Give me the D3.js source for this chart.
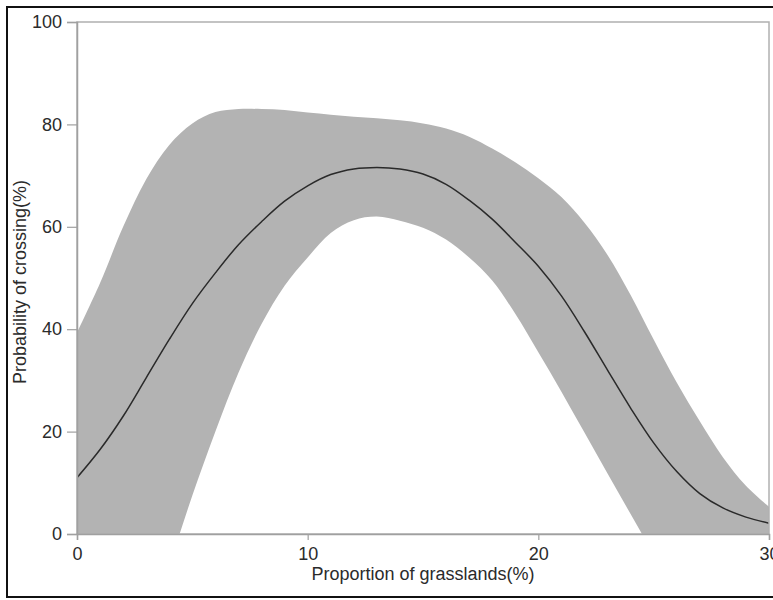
<!DOCTYPE html>
<html>
<head>
<meta charset="utf-8">
<script src="https://cdn.jsdelivr.net/npm/d3@7"></script>
<style>
  body { margin: 0; background: #fff; }
  svg { display: block; font-family: "Liberation Sans", Arial, sans-serif; }
</style>
</head>
<body>
<div id="chart"></div>
<script>
// proportion of grasslands (%)
const xs = [0, 1, 2, 3, 4, 5, 6, 7, 8, 9, 10, 11, 12, 13, 14, 15, 16, 17, 18, 19, 20, 21, 22, 23, 24, 25, 26, 27, 28, 29, 30];
// fitted probability of crossing (%)
const mean = [11.0, 16.5, 23.0, 30.5, 38.0, 45.0, 51.0, 56.5, 61.0, 65.0, 68.0, 70.2, 71.3, 71.6, 71.3, 70.3, 68.3, 65.2, 61.5, 57.0, 52.3, 46.5, 39.5, 32.0, 24.6, 17.8, 12.2, 7.9, 5.1, 3.3, 2.1];
// confidence band (lower part runs below the 0 line and is clipped)
const upper = [39.3, 49.0, 60.0, 69.3, 76.0, 80.2, 82.4, 83.0, 83.0, 82.8, 82.3, 81.9, 81.5, 81.2, 80.8, 80.2, 79.2, 77.6, 75.3, 72.6, 69.5, 65.8, 60.8, 54.5, 46.7, 38.0, 29.6, 22.0, 15.0, 9.4, 5.3];
const lower = [-55, -42, -30, -18, -6, 7.5, 20.0, 31.5, 41.0, 48.5, 54.0, 58.8, 61.3, 62.0, 61.2, 59.8, 57.5, 54.0, 49.5, 43.0, 35.5, 27.8, 19.8, 11.8, 3.9, -4, -12, -18, -23, -27, -30];

const xTicks = [0, 10, 20, 30];
const yTicks = [0, 20, 40, 60, 80, 100];

const width = 773, height = 600;
const pLeft = 77, pRight = 769, pTop = 22, pBottom = 534;

const svg = d3.select("#chart").append("svg")
    .attr("width", width)
    .attr("height", height);

// outer black border (right side runs off the picture)
svg.append("rect")
    .attr("x", 7).attr("y", 7)
    .attr("width", 820).attr("height", 590)
    .attr("fill", "none")
    .attr("stroke", "#111")
    .attr("stroke-width", 2);

const x = d3.scaleLinear().domain([0, 30]).range([pLeft, pRight]);
const y = d3.scaleLinear().domain([0, 100]).range([pBottom, pTop]);

svg.append("clipPath").attr("id", "plotclip")
  .append("rect")
    .attr("x", pLeft).attr("y", pTop)
    .attr("width", pRight - pLeft).attr("height", pBottom - pTop);

const rows = xs.map((v, i) => ({x: v, m: mean[i], lo: lower[i], hi: upper[i]}));
const smooth = d3.curveCatmullRom.alpha(0.5);

const plot = svg.append("g").attr("clip-path", "url(#plotclip)");

plot.append("path")
    .datum(rows)
    .attr("fill", "#b3b3b3")
    .attr("d", d3.area()
        .curve(smooth)
        .x(d => x(d.x))
        .y0(d => y(d.lo))
        .y1(d => y(d.hi)));

plot.append("path")
    .datum(rows)
    .attr("fill", "none")
    .attr("stroke", "#2a2a2a")
    .attr("stroke-width", 1.5)
    .attr("d", d3.line()
        .curve(smooth)
        .x(d => x(d.x))
        .y(d => y(d.m)));

// plot frame
svg.append("rect")
    .attr("x", pLeft).attr("y", pTop)
    .attr("width", pRight - pLeft).attr("height", pBottom - pTop)
    .attr("fill", "none")
    .attr("stroke", "#b0b0b0")
    .attr("stroke-width", 1.5);

const yAxis = svg.append("g")
    .attr("transform", `translate(${pLeft},0)`)
    .call(d3.axisLeft(y).tickValues(yTicks).tickSize(10).tickPadding(5));

const xAxis = svg.append("g")
    .attr("transform", `translate(0,${pBottom})`)
    .call(d3.axisBottom(x).tickValues(xTicks).tickSize(6).tickPadding(7));

[xAxis, yAxis].forEach(a => {
    a.select(".domain").attr("stroke", "#a0a0a0").attr("stroke-width", 1.5);
    a.selectAll(".tick line").attr("stroke", "#a0a0a0").attr("stroke-width", 1.2);
    a.selectAll(".tick text")
        .attr("fill", "#2b2b2b")
        .style("font-size", "18px")
        .style("font-family", '"Liberation Sans", Arial, sans-serif');
});

svg.append("text")
    .attr("x", (pLeft + pRight) / 2)
    .attr("y", 580)
    .attr("text-anchor", "middle")
    .attr("fill", "#2b2b2b")
    .style("font-size", "18px")
    .text("Proportion of grasslands(%)");

svg.append("text")
    .attr("transform", "translate(26,282) rotate(-90)")
    .attr("text-anchor", "middle")
    .attr("fill", "#2b2b2b")
    .style("font-size", "18px")
    .text("Probability of crossing(%)");
</script>
</body>
</html>
